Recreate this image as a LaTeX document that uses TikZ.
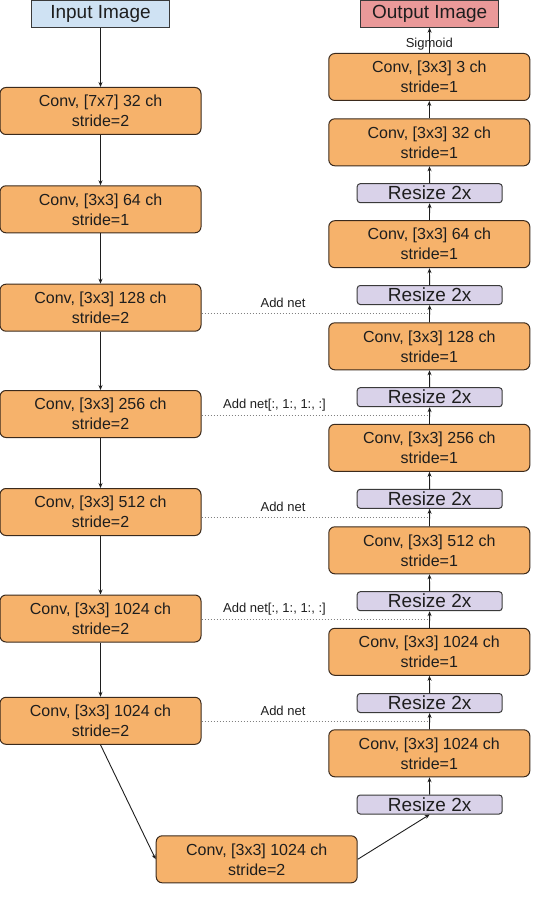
\documentclass[tikz,border=0pt]{standalone}
\usepackage{fontspec}
\setmainfont{Liberation Sans}
\usetikzlibrary{arrows.meta,calc}
\definecolor{convfill}{HTML}{F6B26B}
\definecolor{convdraw}{HTML}{3B2A1C}
\definecolor{infill}{HTML}{CFE2F3}
\definecolor{outfill}{HTML}{EA9999}
\definecolor{rsfill}{HTML}{D9D2E9}
\definecolor{boxdraw}{HTML}{3A3A3A}
\definecolor{txt}{HTML}{1E1E1E}
\definecolor{dotc}{HTML}{808080}
\tikzset{
  convbox/.style={draw=convdraw, fill=convfill, line width=1pt, rounded corners=6pt,
    minimum width=201pt, minimum height=47pt, inner sep=0pt, align=center,
    text=txt, font=\fontsize{16}{20}\selectfont},
  rsbox/.style={draw=boxdraw, fill=rsfill, line width=1pt, rounded corners=3pt,
    minimum width=145pt, minimum height=19pt, inner sep=0pt,
    text=txt, font=\fontsize{19}{19}\selectfont},
  iobox/.style={draw=boxdraw, line width=1pt, minimum width=138pt, minimum height=27pt,
    inner sep=0pt, text=txt, font=\fontsize{19}{19}\selectfont},
  conn/.style={draw=txt, line width=0.9pt, -{Stealth[length=5pt,width=4pt]}},
  skip/.style={draw=dotc, line width=1pt, dash pattern=on 1pt off 2pt},
  lab/.style={inner sep=0pt, text=txt, font=\fontsize{13}{13}\selectfont}
}
\begin{document}
\begin{tikzpicture}[x=1pt,y=-1pt]
\useasboundingbox (0,0) rectangle (539,904);
% input / output
\node[iobox, fill=infill] (in) at (100.5,13.7) {Input Image};
\node[iobox, fill=outfill] (out) at (429.7,13.7) {Output Image};
% encoder
\node[convbox] (b1) at (100.5,111) {Conv, [7x7] 32 ch\\stride=2};
\node[convbox] (b2) at (100.5,209.3) {Conv, [3x3] 64 ch\\stride=1};
\node[convbox] (b3) at (100.5,307.7) {Conv, [3x3] 128 ch\\stride=2};
\node[convbox] (b4) at (100.5,414) {Conv, [3x3] 256 ch\\stride=2};
\node[convbox] (b5) at (100.5,512) {Conv, [3x3] 512 ch\\stride=2};
\node[convbox] (b6) at (100.5,618.5) {Conv, [3x3] 1024 ch\\stride=2};
\node[convbox] (b7) at (100.5,720.8) {Conv, [3x3] 1024 ch\\stride=2};
\node[convbox] (b8) at (256.7,859.3) {Conv, [3x3] 1024 ch\\stride=2};
% decoder
\node[convbox] (r1) at (429.3,77) {Conv, [3x3] 3 ch\\stride=1};
\node[convbox] (r2) at (429.3,142.3) {Conv, [3x3] 32 ch\\stride=1};
\node[rsbox] (s1) at (429.7,193.2) {Resize 2x};
\node[convbox] (r3) at (429.3,244.2) {Conv, [3x3] 64 ch\\stride=1};
\node[rsbox] (s2) at (429.7,295) {Resize 2x};
\node[convbox] (r4) at (429.3,346.3) {Conv, [3x3] 128 ch\\stride=1};
\node[rsbox] (s3) at (429.7,397.2) {Resize 2x};
\node[convbox] (r5) at (429.3,447.8) {Conv, [3x3] 256 ch\\stride=1};
\node[rsbox] (s4) at (429.7,498.8) {Resize 2x};
\node[convbox] (r6) at (429.3,550.3) {Conv, [3x3] 512 ch\\stride=1};
\node[rsbox] (s5) at (429.7,601.2) {Resize 2x};
\node[convbox] (r7) at (429.3,651.8) {Conv, [3x3] 1024 ch\\stride=1};
\node[rsbox] (s6) at (429.7,703) {Resize 2x};
\node[convbox] (r8) at (429.3,753.3) {Conv, [3x3] 1024 ch\\stride=1};
\node[rsbox] (s7) at (429.7,804.5) {Resize 2x};
% encoder arrows
\draw[conn] (in) -- (b1);
\draw[conn] (b1) -- (b2);
\draw[conn] (b2) -- (b3);
\draw[conn] (b3) -- (b4);
\draw[conn] (b4) -- (b5);
\draw[conn] (b5) -- (b6);
\draw[conn] (b6) -- (b7);
\draw[conn] (b7.south) -- (b8.west);
\draw[conn] (b8.east) -- (s7.south);
% decoder arrows
\draw[conn] (s7) -- (r8);
\draw[conn] (r8) -- (s6);
\draw[conn] (s6) -- (r7);
\draw[conn] (r7) -- (s5);
\draw[conn] (s5) -- (r6);
\draw[conn] (r6) -- (s4);
\draw[conn] (s4) -- (r5);
\draw[conn] (r5) -- (s3);
\draw[conn] (s3) -- (r4);
\draw[conn] (r4) -- (s2);
\draw[conn] (s2) -- (r3);
\draw[conn] (r3) -- (s1);
\draw[conn] (s1) -- (r2);
\draw[conn] (r2) -- (r1);
\node[lab] (sig) at (429.3,44.5) {Sigmoid};
\draw[conn] (r1) -- (out);
% skip connections
\coordinate (m3) at ($(r4.north)!0.5!(s2.south)$);
\coordinate (m4) at ($(r5.north)!0.5!(s3.south)$);
\coordinate (m5) at ($(r6.north)!0.5!(s4.south)$);
\coordinate (m6) at ($(r7.north)!0.5!(s5.south)$);
\coordinate (m7) at ($(r8.north)!0.5!(s6.south)$);
\draw[skip] (b3.east |- m3) -- (m3);
\draw[skip] (b4.east |- m4) -- (m4);
\draw[skip] (b5.east |- m5) -- (m5);
\draw[skip] (b6.east |- m6) -- (m6);
\draw[skip] (b7.east |- m7) -- (m7);
\node[lab] (l3) at (283,302.8) {Add net};
\node[lab] (l4) at (274.5,405.3) {Add net[:, 1:, 1:, :]};
\node[lab] (l5) at (283,506.8) {Add net};
\node[lab] (l6) at (274.5,609) {Add net[:, 1:, 1:, :]};
\node[lab] (l7) at (283,711) {Add net};
\end{tikzpicture}
\end{document}
